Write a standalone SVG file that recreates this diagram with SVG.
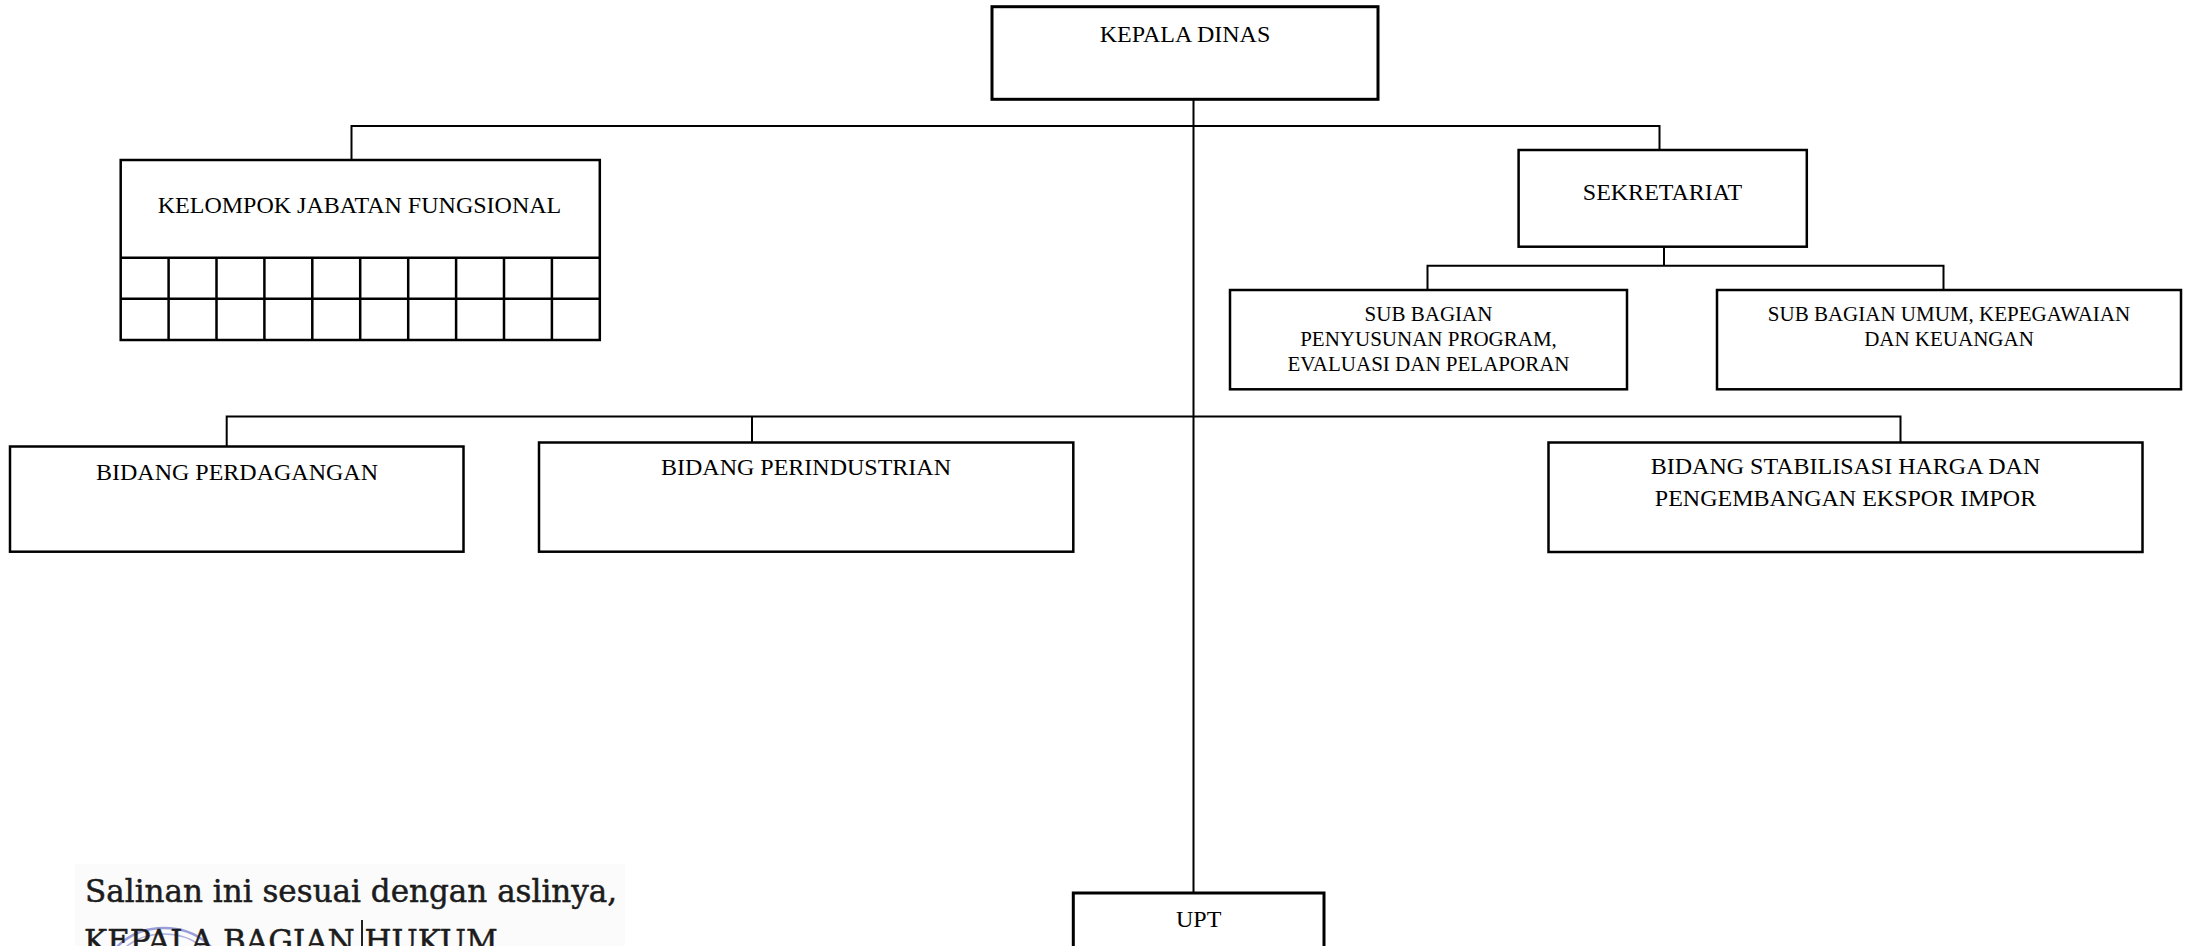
<svg xmlns="http://www.w3.org/2000/svg" width="2194" height="946" viewBox="0 0 2194 946">
<style>
.box{fill:#fff;stroke:#000;stroke-width:2.5}
.conn{fill:none;stroke:#000;stroke-width:2}
.t{font-family:"Liberation Serif","Times New Roman",serif;font-size:24px;fill:#000;text-anchor:middle}
.s{font-family:"Liberation Serif","Times New Roman",serif;font-size:21px;fill:#000;text-anchor:middle}
.sal{font-family:"DejaVu Serif","Liberation Serif",serif;font-size:31px;fill:#1c1c1c;stroke:#1c1c1c;stroke-width:0.5}
</style>
<rect width="2194" height="946" fill="#fff"/>
<g id="connectors">
<path class="conn" d="M1193.5,99 V893"/>
<path class="conn" d="M351.5,160 V126 H1659.5 V150"/>
<path class="conn" d="M1664,246.7 V265.7 M1427.5,290 V265.7 H1943.5 V290"/>
<path class="conn" d="M226.7,446.5 V416.5 H1900.5 V442.5 M752,416.5 V442.5"/>
</g>
<g id="kepala-dinas">
<rect class="box" x="992" y="6.7" width="386" height="92.6" style="stroke-width:3"/>
<text class="t" x="1185" y="41.5">KEPALA DINAS</text>
</g>
<g id="kelompok-jabatan-fungsional">
<rect class="box" x="120.7" y="160" width="479.1" height="180"/>
<path class="conn" d="M120.7,257.7 H599.8 M120.7,298.7 H599.8 M168.6,257.7 V340 M216.5,257.7 V340 M264.4,257.7 V340 M312.3,257.7 V340 M360.2,257.7 V340 M408.2,257.7 V340 M456.1,257.7 V340 M504,257.7 V340 M551.9,257.7 V340" style="stroke-width:2.5"/>
<text class="t" x="359.5" y="213">KELOMPOK JABATAN FUNGSIONAL</text>
</g>
<g id="sekretariat">
<rect class="box" x="1518.6" y="150" width="288.2" height="96.7"/>
<text class="t" x="1662.5" y="200">SEKRETARIAT</text>
</g>
<g id="sub-bagian-program">
<rect class="box" x="1230" y="290" width="397" height="99.3"/>
<text class="s" x="1428.5" y="320.5">SUB BAGIAN</text>
<text class="s" x="1428.5" y="346">PENYUSUNAN PROGRAM,</text>
<text class="s" x="1428.5" y="370.5">EVALUASI DAN PELAPORAN</text>
</g>
<g id="sub-bagian-umum">
<rect class="box" x="1717" y="290" width="464" height="99.3"/>
<text class="s" x="1949" y="320.5">SUB BAGIAN UMUM, KEPEGAWAIAN</text>
<text class="s" x="1949" y="346">DAN KEUANGAN</text>
</g>
<g id="bidang-perdagangan">
<rect class="box" x="10" y="446.5" width="453.5" height="105.2"/>
<text class="t" x="237" y="480">BIDANG PERDAGANGAN</text>
</g>
<g id="bidang-perindustrian">
<rect class="box" x="539" y="442.5" width="534.3" height="109.2"/>
<text class="t" x="806" y="475">BIDANG PERINDUSTRIAN</text>
</g>
<g id="bidang-stabilisasi">
<rect class="box" x="1548.5" y="442.5" width="594" height="109.5"/>
<text class="t" x="1845.5" y="474">BIDANG STABILISASI HARGA DAN</text>
<text class="t" x="1845.5" y="506">PENGEMBANGAN EKSPOR IMPOR</text>
</g>
<g id="upt">
<rect class="box" x="1073.3" y="893" width="250.7" height="100" style="stroke-width:3"/>
<text class="t" x="1198.7" y="927">UPT</text>
</g>
<g id="salinan">
<rect x="75" y="864" width="550" height="82" fill="#fbfbfb"/>
<text class="sal" x="85" y="901.5">Salinan ini sesuai dengan aslinya,</text>
<ellipse cx="164" cy="978" rx="60" ry="50" fill="none" stroke="#7a7fcf" stroke-width="2.5" opacity="0.75"/>
<ellipse cx="164" cy="978" rx="54" ry="44" fill="none" stroke="#7a7fcf" stroke-width="1.5" opacity="0.6"/>
<text class="sal" x="84" y="952">KEPALA BAGIAN HUKUM</text>
<path d="M362,920 V946" stroke="#222" stroke-width="2" fill="none"/>
</g>
</svg>
